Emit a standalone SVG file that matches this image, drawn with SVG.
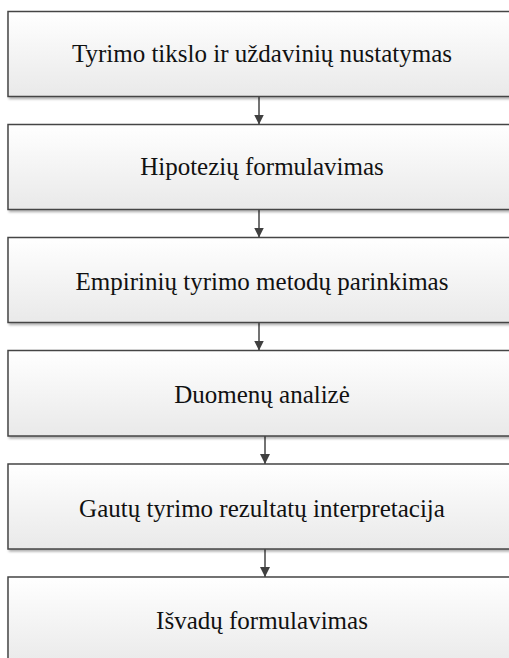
<svg xmlns="http://www.w3.org/2000/svg" width="509" height="658" viewBox="0 0 509 658">
<defs>
<linearGradient id="g" x1="0" y1="0" x2="0" y2="1">
<stop offset="0" stop-color="#ffffff"/>
<stop offset="1" stop-color="#e9e9e9"/>
</linearGradient>
<filter id="sh" x="-5%" y="-10%" width="115%" height="130%">
<feDropShadow dx="1.5" dy="2" stdDeviation="1.2" flood-color="#000" flood-opacity="0.3"/>
</filter>
<marker id="ah" markerWidth="10" markerHeight="12" refX="10" refY="5" orient="auto" markerUnits="userSpaceOnUse">
<path d="M0,0 L10,5 L0,10 Z" fill="#404040"/>
</marker>
<style>
.box{fill:url(#g);stroke:#454545;stroke-width:1.5;filter:url(#sh)}
.lbl{font-family:"Liberation Serif","Times New Roman",serif;font-size:25px;fill:#111;text-anchor:middle}
.con{stroke:#454545;stroke-width:1.5;fill:none;marker-end:url(#ah)}
</style>
</defs>
<rect width="509" height="658" fill="#ffffff"/>
<g id="connectors">
<line class="con" x1="259" y1="96.5" x2="259" y2="124.5"/>
<line class="con" x1="259" y1="209.5" x2="259" y2="237.5"/>
<line class="con" x1="259" y1="322.5" x2="259" y2="350.5"/>
<line class="con" x1="265" y1="436" x2="265" y2="464"/>
<line class="con" x1="265" y1="549" x2="265" y2="577"/>
</g>
<g id="n1"><rect class="box" x="8" y="11.5" width="510" height="85"/><text class="lbl" x="262" y="61.5">Tyrimo tikslo ir uždavinių nustatymas</text></g>
<g id="n2"><rect class="box" x="8" y="124.5" width="510" height="85"/><text class="lbl" x="262" y="175">Hipotezių formulavimas</text></g>
<g id="n3"><rect class="box" x="8" y="237.5" width="510" height="85"/><text class="lbl" x="262" y="289.5">Empirinių tyrimo metodų parinkimas</text></g>
<g id="n4"><rect class="box" x="8" y="350.5" width="510" height="85.5"/><text class="lbl" x="262" y="403">Duomenų analizė</text></g>
<g id="n5"><rect class="box" x="8" y="464" width="510" height="85"/><text class="lbl" x="262" y="517">Gautų tyrimo rezultatų interpretacija</text></g>
<g id="n6"><rect class="box" x="8" y="577" width="510" height="90"/><text class="lbl" x="262" y="628.5">Išvadų formulavimas</text></g>
</svg>
